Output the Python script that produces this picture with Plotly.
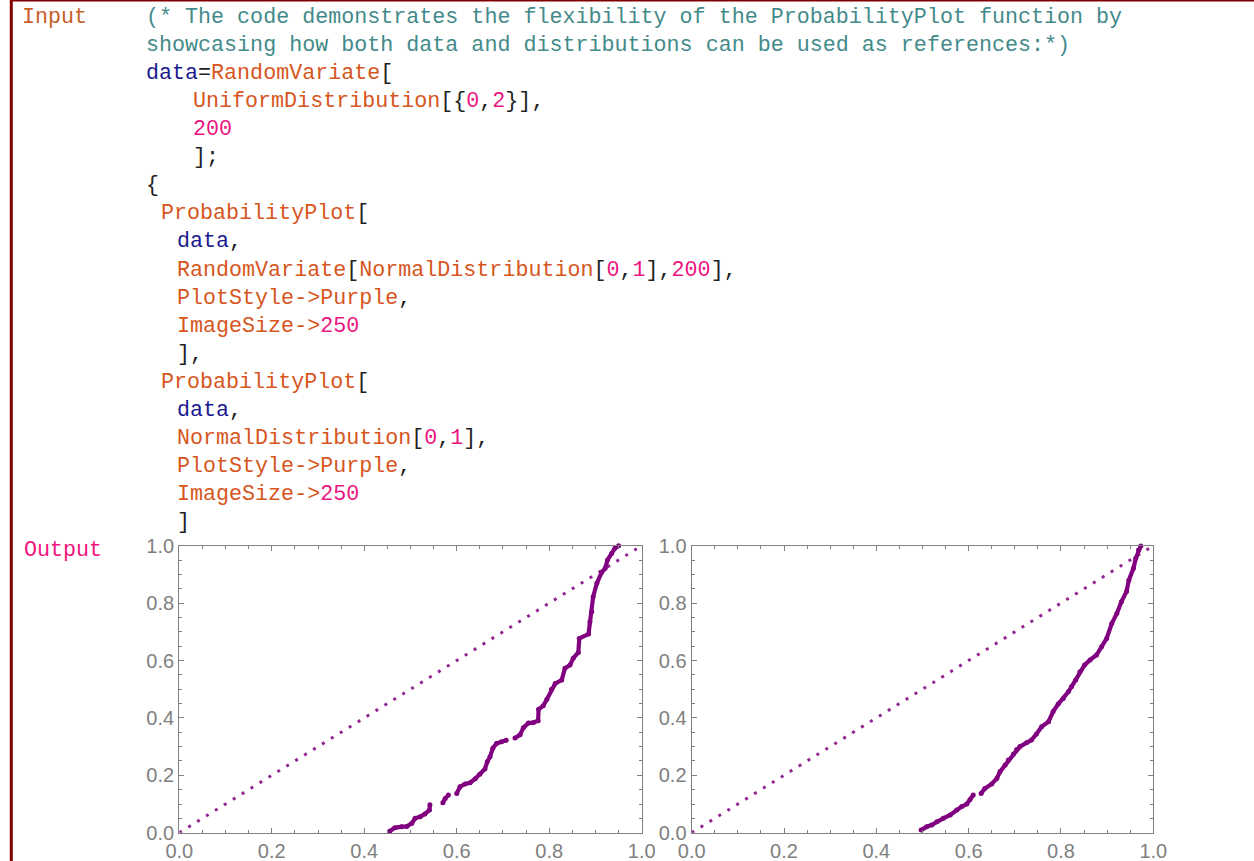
import plotly.graph_objects as go

# ---------------- data ----------------
# Left panel: data vs. a sample of NormalDistribution[0,1] (None = visible gap)
left_x = [0.455, 0.466, 0.481, 0.492, 0.503, 0.510, 0.521, 0.531, 0.541, 0.542, None,
          0.570, 0.575, 0.582, None,
          0.600, 0.607, 0.618, 0.629, 0.640, 0.650, 0.661, 0.666, 0.672, 0.678, 0.686, 0.697, 0.707, None,
          0.726, 0.737, 0.744, 0.755, 0.766, 0.776, 0.777, 0.787, 0.795, 0.805, 0.813, 0.827, 0.834,
          0.845, 0.852, 0.863, 0.865, 0.885, 0.888, 0.892, 0.895, 0.903, 0.913, 0.921, 0.926, 0.935,
          0.942, 0.950]
left_y = [0.005, 0.017, 0.021, 0.022, 0.033, 0.050, 0.056, 0.065, 0.079, 0.097, None,
          0.104, 0.119, 0.131, None,
          0.137, 0.160, 0.170, 0.174, 0.188, 0.204, 0.222, 0.247, 0.265, 0.294, 0.311, 0.317, 0.322, None,
          0.330, 0.341, 0.366, 0.382, 0.384, 0.390, 0.430, 0.442, 0.465, 0.500, 0.520, 0.532, 0.573,
          0.584, 0.608, 0.628, 0.677, 0.692, 0.735, 0.770, 0.822, 0.869, 0.906, 0.921, 0.950, 0.973,
          0.991, 1.000]

# Right panel: data vs. NormalDistribution[0,1]
right_x = [0.497, 0.509, 0.520, 0.531, 0.545, 0.560, 0.574, 0.585, 0.596, 0.603, 0.610, None,
           0.627, 0.635, 0.650, 0.661, 0.668, 0.679, 0.686, 0.697, 0.704, 0.711, 0.726, 0.736, 0.747,
           0.758, 0.773, 0.783, 0.794, 0.805, 0.816, 0.823, 0.832, 0.841, 0.851, 0.863, 0.877, 0.888,
           0.899, 0.910, 0.921, 0.931, 0.942, 0.947, 0.957, 0.962, 0.968, 0.973]
right_y = [0.009, 0.021, 0.027, 0.038, 0.050, 0.062, 0.079, 0.091, 0.100, 0.116, 0.131, None,
           0.137, 0.154, 0.170, 0.189, 0.213, 0.236, 0.253, 0.274, 0.290, 0.300, 0.314, 0.323, 0.344,
           0.369, 0.387, 0.422, 0.448, 0.468, 0.491, 0.509, 0.532, 0.561, 0.584, 0.602, 0.619, 0.648,
           0.677, 0.729, 0.764, 0.805, 0.840, 0.880, 0.921, 0.956, 0.985, 0.999]

# Reference (diagonal) line end points
ref_x = [0.0, 1.0]
ref_y = [0.0, 1.0]

# Tick values / labels
tick_vals = [0.0, 0.2, 0.4, 0.6, 0.8, 1.0]
tick_text = ["0.0", "0.2", "0.4", "0.6", "0.8", "1.0"]

# ---------------- notebook text ----------------
COL = {"C": "#438a8a", "O": "#d6561d", "N": "#1a1a8f", "K": "#222222", "M": "#ec1480"}
code_lines = [
    (144, [("(* The code demonstrates the flexibility of the ProbabilityPlot function by", "C")]),
    (144, [("showcasing how both data and distributions can be used as references:*)", "C")]),
    (144, [("data", "N"), ("=", "K"), ("RandomVariate", "O"), ("[", "K")]),
    (191, [("UniformDistribution", "O"), ("[{", "K"), ("0", "M"), (",", "K"), ("2", "M"), ("}],", "K")]),
    (191, [("200", "M")]),
    (191, [("];", "K")]),
    (144, [("{", "K")]),
    (159, [("ProbabilityPlot", "O"), ("[", "K")]),
    (175, [("data", "N"), (",", "K")]),
    (175, [("RandomVariate", "O"), ("[", "K"), ("NormalDistribution", "O"), ("[", "K"), ("0", "M"),
           (",", "K"), ("1", "M"), ("],", "K"), ("200", "M"), ("],", "K")]),
    (175, [("PlotStyle-&gt;Purple", "O"), (",", "K")]),
    (175, [("ImageSize-&gt;", "O"), ("250", "M")]),
    (175, [("],", "K")]),
    (159, [("ProbabilityPlot", "O"), ("[", "K")]),
    (175, [("data", "N"), (",", "K")]),
    (175, [("NormalDistribution", "O"), ("[", "K"), ("0", "M"), (",", "K"), ("1", "M"), ("],", "K")]),
    (175, [("PlotStyle-&gt;Purple", "O"), (",", "K")]),
    (175, [("ImageSize-&gt;", "O"), ("250", "M")]),
    (175, [("]", "K")]),
]

W, H = 1254, 861
PURPLE = "#800080"
GRAY = "#808080"
MONO = "Liberation Mono"
FS = 21.7


def px(x):
    return x / W


def py(y):
    return 1 - y / H


fig = go.Figure()
for xa, ya, xs, ys in [("x", "y", left_x, left_y), ("x2", "y2", right_x, right_y)]:
    fig.add_trace(go.Scatter(x=ref_x, y=ref_y, xaxis=xa, yaxis=ya, mode="lines",
                             line=dict(color="rgba(128,0,128,0.85)", width=3, dash="3px,7.5px"),
                             cliponaxis=False, hoverinfo="skip", showlegend=False))
    fig.add_trace(go.Scatter(x=xs, y=ys, xaxis=xa, yaxis=ya, mode="lines+markers",
                             line=dict(color=PURPLE, width=4.2),
                             marker=dict(color=PURPLE, size=5),
                             connectgaps=False, cliponaxis=False, showlegend=False))

axis_common = dict(range=[0, 1], tickmode="array", tickvals=tick_vals, ticktext=tick_text,
                   ticks="inside", ticklen=5, tickwidth=1, tickcolor=GRAY,
                   showline=True, linecolor=GRAY, linewidth=1.3, mirror="allticks",
                   showgrid=False, zeroline=False, fixedrange=True, automargin=False,
                   tickfont=dict(family="Liberation Sans", size=20, color=GRAY),
                   minor=dict(ticks="inside", ticklen=3, tickcolor=GRAY, tickmode="linear",
                              tick0=0, dtick=0.05, showgrid=False))

ydom = [py(832.7), py(545.7)]
fig.update_layout(
    template="none",
    width=W, height=H, margin=dict(l=0, r=0, t=0, b=0, pad=0, autoexpand=False),
    paper_bgcolor="white", plot_bgcolor="white", hovermode=False,
    xaxis=dict(domain=[px(179.3), px(641.7)], anchor="y", **axis_common),
    yaxis=dict(domain=ydom, anchor="x", **axis_common),
    xaxis2=dict(domain=[px(691.7), px(1153.3)], anchor="y2", **axis_common),
    yaxis2=dict(domain=ydom, anchor="x2", **axis_common),
)

annotations = []
for i, (x0, segs) in enumerate(code_lines):
    txt = "".join(f'<span style="color:{COL[c]}">{t}</span>' for t, c in segs)
    annotations.append(dict(x=px(x0), y=py(17.5 + 28.06 * i), xref="paper", yref="paper",
                            text=txt, showarrow=False, xanchor="left", yanchor="middle",
                            font=dict(family=MONO, size=FS)))
annotations.append(dict(x=px(20), y=py(17.5), xref="paper", yref="paper", text="Input",
                        showarrow=False, xanchor="left", yanchor="middle",
                        font=dict(family=MONO, size=FS, color="#c8602a")))
annotations.append(dict(x=px(22), y=py(550), xref="paper", yref="paper", text="Output",
                        showarrow=False, xanchor="left", yanchor="middle",
                        font=dict(family=MONO, size=FS, color="#f0147f")))
fig.update_layout(annotations=annotations)

fig.update_layout(shapes=[
    dict(type="line", xref="paper", yref="paper", x0=px(11.3), x1=px(11.3), y0=0, y1=1,
         line=dict(color="#800000", width=3)),
    dict(type="line", xref="paper", yref="paper", x0=px(10), x1=1, y0=py(0.8), y1=py(0.8),
         line=dict(color="#800000", width=1.5)),
])

fig.write_html("out.html", config={"displayModeBar": False},
               post_script="document.body.style.margin='0';document.body.style.overflow='hidden';")
